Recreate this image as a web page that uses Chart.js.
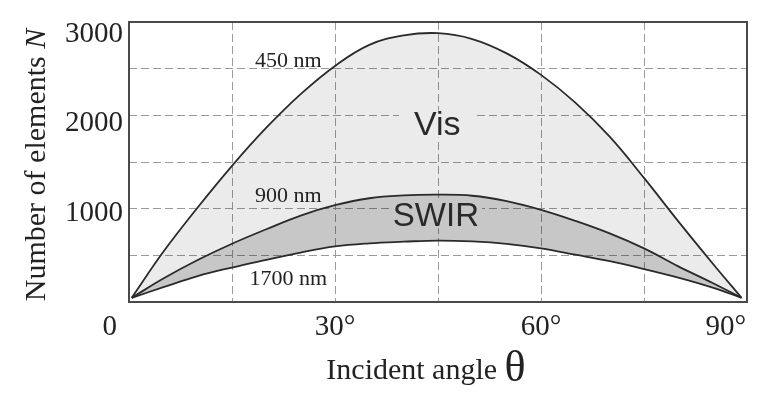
<!DOCTYPE html>
<html lang="en">
<head>
  <meta charset="UTF-8">
  <title>Number of elements vs incident angle</title>
  <script src="https://cdn.jsdelivr.net/npm/chart.js"></script>
  <style>
    body { margin: 0; background: #fff; }
    #wrap { width: 769px; height: 399px; }
  </style>
</head>
<body>
  <div id="wrap"><canvas id="chart" width="769" height="399"></canvas></div>

  <script>
    // incident angle (deg) and number of elements
    const angles   = [0.4, 5, 10, 15, 20, 25, 30, 35, 40, 45, 50, 55, 60, 65, 70, 75, 80, 85, 89.2];
    const n450nm   = [47, 560, 1055, 1520, 1945, 2320, 2635, 2870, 2975, 3000, 2935, 2775, 2535, 2225, 1845, 1385, 900, 430, 47];
    const n900nm   = [47, 262, 468, 650, 812, 965, 1080, 1158, 1190, 1198, 1186, 1125, 1028, 905, 765, 598, 398, 212, 47];
    const n1700nm  = [47, 165, 290, 385, 470, 552, 620, 655, 673, 686, 676, 648, 598, 528, 455, 368, 272, 160, 47];

    const xTickValues = [0, 30, 60, 90];
    const xTickLabels = ["0", "30°", "60°", "90°"];
    const yTickValues = [1000, 2000, 3000];

    const curveLabels = ["450 nm", "900 nm", "1700 nm"];
    const curveLabelAt = [[23.2, 2690], [23.2, 1183], [23.2, 257]];
    const bandLabels = ["Vis", "SWIR"];
    const bandLabelAt = [[44.9, 1987], [44.7, 971]];

    const serif = '"Liberation Serif", "DejaVu Serif", serif';
    const sans = '"Liberation Sans", Arial, sans-serif';

    const toPoints = vals => vals.map((v, i) => ({ x: angles[i], y: v }));

    // draws border, tick labels, axis titles and the text inside the plot
    const textPlugin = {
      id: "texts",
      afterDraw(chart) {
        const { ctx, chartArea: a, scales: { x, y } } = chart;
        ctx.save();

        ctx.strokeStyle = "#4a4a4a";
        ctx.lineWidth = 2;
        ctx.strokeRect(a.left, a.top, a.right - a.left, a.bottom - a.top);

        ctx.fillStyle = "#222";
        ctx.font = "29px " + serif;
        ctx.textBaseline = "middle";
        ctx.textAlign = "right";
        yTickValues.forEach(v => ctx.fillText(String(v), a.left - 6, y.getPixelForValue(v) + 1));

        xTickValues.forEach((v, i) => {
          let px = x.getPixelForValue(v);
          ctx.textAlign = "center";
          if (i === 0) { ctx.textAlign = "right"; px -= 12; }
          if (i === xTickValues.length - 1) { ctx.textAlign = "right"; px -= 1; }
          ctx.fillText(xTickLabels[i], px, 327);
        });

        // x title
        ctx.textBaseline = "alphabetic";
        ctx.textAlign = "left";
        ctx.font = "30px " + serif;
        const t1 = "Incident angle ";
        const w1 = ctx.measureText(t1).width;
        ctx.font = "44px " + serif;
        const w2 = ctx.measureText("θ").width;
        let sx = 426 - (w1 + w2) / 2;
        ctx.font = "30px " + serif;
        ctx.fillText(t1, sx, 379);
        ctx.font = "44px " + serif;
        ctx.fillText("θ", sx + w1, 381);

        // y title
        ctx.save();
        ctx.translate(45, 165);
        ctx.rotate(-Math.PI / 2);
        ctx.font = "30px " + serif;
        const y1 = "Number of elements ";
        const yw1 = ctx.measureText(y1).width;
        ctx.font = "italic 30px " + serif;
        const yw2 = ctx.measureText("N").width;
        const sy = -(yw1 + yw2) / 2;
        ctx.font = "30px " + serif;
        ctx.fillText(y1, sy, 0);
        ctx.font = "italic 30px " + serif;
        ctx.fillText("N", sy + yw1, 0);
        ctx.restore();

        // wavelength labels
        ctx.font = "22px " + serif;
        ctx.textAlign = "center";
        ctx.textBaseline = "middle";
        curveLabels.forEach((t, i) => {
          ctx.fillText(t, x.getPixelForValue(curveLabelAt[i][0]), y.getPixelForValue(curveLabelAt[i][1]));
        });

        // band labels with a patch of the fill behind them
        const bandBg = ["#ebebeb", "#c7c7c7"];
        const bandFont = [34, 33];
        const bandPad = [15, 3];
        bandLabels.forEach((t, i) => {
          ctx.font = bandFont[i] + "px " + sans;
          const px = x.getPixelForValue(bandLabelAt[i][0]);
          const py = y.getPixelForValue(bandLabelAt[i][1]);
          const w = ctx.measureText(t).width + bandPad[i] * 2;
          const h = bandFont[i] * 0.8;
          ctx.fillStyle = bandBg[i];
          ctx.fillRect(px - w / 2, py - h / 2, w, h);
          ctx.fillStyle = "#2a2a2a";
          ctx.fillText(t, px, py + 2);
        });

        ctx.restore();
      }
    };

    const lineStyle = {
      borderColor: "#2a2a2a",
      borderWidth: 1.8,
      pointRadius: 0,
      tension: 0.4
    };

    new Chart(document.getElementById("chart"), {
      type: "line",
      data: {
        datasets: [
          { label: "450 nm", data: toPoints(n450nm), fill: "+1", backgroundColor: "rgba(0,0,0,0.08)", ...lineStyle },
          { label: "900 nm", data: toPoints(n900nm), fill: "+1", backgroundColor: "rgba(0,0,0,0.22)", ...lineStyle },
          { label: "1700 nm", data: toPoints(n1700nm), fill: false, ...lineStyle }
        ]
      },
      options: {
        responsive: false,
        animation: false,
        devicePixelRatio: 1,
        layout: { padding: { top: 22, right: 22, left: 0, bottom: 0 } },
        plugins: {
          legend: { display: false },
          tooltip: { enabled: false },
          filler: { drawTime: "beforeDatasetsDraw" }
        },
        scales: {
          x: {
            type: "linear",
            min: 0,
            max: 90,
            ticks: { stepSize: 15, display: false },
            grid: { color: "#9a9a9a", lineWidth: 1, drawTicks: false },
            border: { display: false, dash: [8, 4] },
            afterFit: s => { s.height = 97; }
          },
          y: {
            min: 0,
            max: 3125,
            ticks: { stepSize: 500, display: false },
            grid: { color: "#9a9a9a", lineWidth: 1, drawTicks: false },
            border: { display: false, dash: [8, 4] },
            afterFit: s => { s.width = 129; }
          }
        }
      },
      plugins: [textPlugin]
    });
  </script>
</body>
</html>
